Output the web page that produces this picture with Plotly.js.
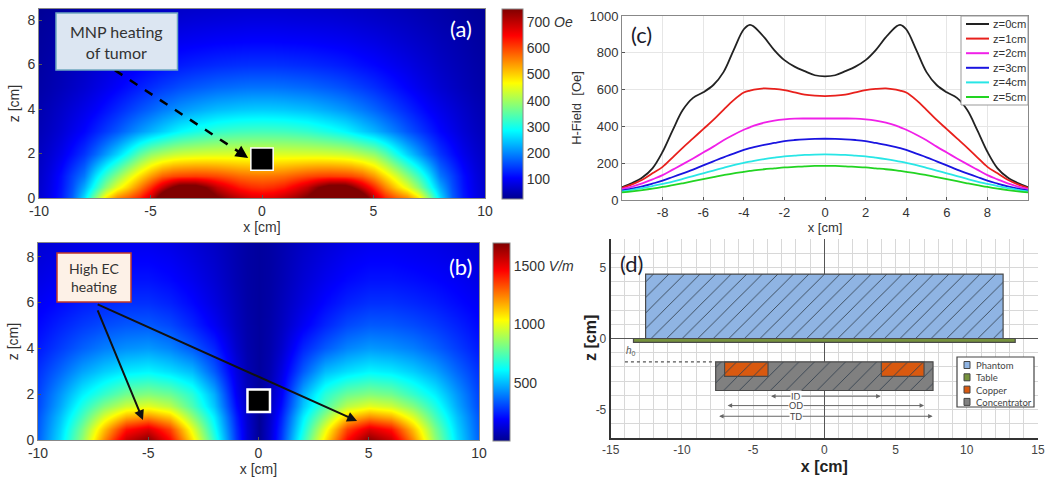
<!DOCTYPE html>
<html><head><meta charset="utf-8">
<style>html,body{margin:0;padding:0;background:#fff}#g{width:1050px;height:477px}</style>
<script src="https://cdn.plot.ly/plotly-3.0.1.min.js"></script></head>
<body><div id="g"></div>
<script>
// Panel (c) and (a): H-field [Oe] vs x at each height z
const xCm=[-10,-9.5,-9,-8.5,-8,-7.5,-7,-6.5,-6,-5.5,-5,-4.5,-4,-3.7,-3.5,-3,-2.5,-2,-1.5,-1,-.5,0,.5,1,1.5,2,2.5,3,3.5,3.7,4,4.5,5,5.5,6,6.5,7,7.5,8,8.5,9,9.5,10];
const hZ0=[70,92,122,172,262,380,490,555,585,625,695,815,928,952,942,885,815,760,725,700,678,672,678,700,725,760,815,885,942,952,928,815,695,625,585,555,490,380,262,172,122,92,70];
const hZ1=[65,85,110,145,180,232,285,335,385,435,490,543,584,595,600,607,604,597,585,573,567,565,567,573,585,597,604,607,600,595,584,543,490,435,385,335,285,232,180,145,110,85,65];
const hZ2=[60,73,90,112,135,165,195,226,258,290,325,355,382,395,404,420,431,438,442,443,443,443,443,443,442,438,431,420,404,395,382,355,325,290,258,226,195,165,135,112,90,73,60];
const hZ3=[52,62,74,89,105,125,145,165,188,210,232,252,272,282,288,300,310,320,326,330,332,333,332,330,326,320,310,300,288,282,272,252,232,210,188,165,145,125,105,89,74,62,52];
const hZ4=[47,55,65,76,88,100,115,130,145,160,175,190,202,209,213,222,230,237,241,245,247,248,247,245,241,237,230,222,213,209,202,190,175,160,145,130,115,100,88,76,65,55,47];
const hZ5=[41,47,54,62,71,81,91,102,113,124,135,145,153,158,161,167,172,177,180,183,185,185,185,183,180,177,172,167,161,158,153,145,135,124,113,102,91,81,71,62,54,47,41];
const zLabels=['z=0cm','z=1cm','z=2cm','z=3cm','z=4cm','z=5cm'];
const zColors=['#222222','#e8201c','#f020e8','#1a14e0','#28e6e6','#22d422'];
const mapZ05=[68,88,116,160,225,305,385,450,500,555,620,690,755,785,790,785,745,695,660,632,618,612,618,632,660,695,745,785,790,785,755,690,620,555,500,450,385,305,225,160,116,88,68];
const mapZ1=[65,85,112,150,190,265,330,385,440,490,540,580,598,602,604,607,604,597,585,573,567,565,567,573,585,597,604,607,604,602,598,580,540,490,440,385,330,265,190,150,112,85,65];
const mapZ2=[60,73,90,113,140,175,215,255,300,350,390,410,425,430,433,437,440,441,442,443,443,443,443,443,442,441,440,437,433,430,425,410,390,350,300,255,215,175,140,113,90,73,60];
const hZ6=[38,43,49,55,62,70,77,85,92,99,106,112,118,121,123,127,130,133,135,137,138,138,138,137,135,133,130,127,123,121,118,112,106,99,92,85,77,70,62,55,49,43,38];
const hZ7=[35,39,44,49,54,60,65,70,75,80,85,89,93,95,96,98,100,102,103,104,105,105,105,104,103,102,100,98,96,95,93,89,85,80,75,70,65,60,54,49,44,39,35];
const hZ8=[32,35,38,42,46,50,54,58,61,64,67,70,73,74,75,77,78,79,80,81,82,82,82,81,80,79,78,77,75,74,73,70,67,64,61,58,54,50,46,42,38,35,32];
const hZ86=[29,32,35,38,42,45,48,51,54,56,59,61,63,64,65,66,67,68,69,70,70,70,70,70,69,68,67,66,65,64,63,61,59,56,54,51,48,45,42,38,35,32,29];
const zRowsA=[0,.5,1,2,3,4,5,6,7,8,8.6];
const zGridA=[hZ0,mapZ05,mapZ1,mapZ2,hZ3,hZ4,hZ5,hZ6,hZ7,hZ8,hZ86];
// Panel (b): E-field [V/m]
const xB=[-10,-9,-8,-7,-6,-5,-4,-3,-2,-1,-.5,0,.5,1,2,3,4,5,6,7,8,9,10];
const zRowsB=[0,.5,1,1.5,2,3,4,5,6,7,8,8.6];
const zGridB=[
[350,560,850,1230,1560,1680,1450,1080,690,280,120,15,120,280,690,1080,1450,1680,1560,1230,850,560,350],
[340,540,810,1140,1430,1520,1350,1000,640,265,115,15,115,265,640,1000,1350,1520,1430,1140,810,540,340],
[330,510,730,980,1170,1230,1130,860,590,240,105,15,105,240,590,860,1130,1230,1170,980,730,510,330],
[310,470,660,830,950,990,920,740,520,205,90,20,90,205,520,740,920,990,950,830,660,470,310],
[300,440,590,700,800,830,790,680,480,175,80,25,80,175,480,680,790,830,800,700,590,440,300],
[270,360,460,530,580,600,560,500,340,140,65,30,65,140,340,500,560,600,580,530,460,360,270],
[230,290,350,400,430,445,410,340,250,105,55,30,55,105,250,340,410,445,430,400,350,290,230],
[200,245,285,315,335,340,310,250,175,85,50,30,50,85,175,250,310,340,335,315,285,245,200],
[175,205,235,255,270,270,245,200,140,75,45,30,45,75,140,200,245,270,270,255,235,205,175],
[150,175,195,210,220,220,200,165,120,65,42,30,42,65,120,165,200,220,220,210,195,175,150],
[130,150,165,175,185,185,170,140,105,60,40,30,40,60,105,140,170,185,185,175,165,150,130],
[120,135,150,160,165,165,150,125,95,58,40,30,40,58,95,125,150,165,165,160,150,135,120]];
// Panel (d): geometry in cm
const partNames=['Phantom','Table','Copper','Concentrator'];
const partColors=['#8fb4e3','#76923c','#d9590f','#808080'];
const phantomX=[0],phantomW=[25.1],phantomBase=[0],phantomH=[4.53];
const tableX=[0],tableW=[26.8],tableBase=[-0.27],tableH=[0.27];
const copperX=[-5.48,5.5],copperW=[3.05,3],copperBase=[-2.66,-2.66],copperH=[1,1];
const concX=[0],concW=[15.26],concBase=[-3.66],concH=[2.02];
const cbTicksA=[100,200,300,400,500,600,700];
const cbTextA=['100','200','300','400','500','600','700 <i>Oe</i>'];
const cbTicksB=[500,1000,1500];
const cbTextB=['500','1000','1500 <i>V/m</i>'];
const mapXTicks=[-10,-5,0,5,10], mapXText=['-10','-5','0','5','10'];
const mapZTicks=[0,2,4,6,8];
const cXTicks=[-8,-6,-4,-2,0,2,4,6,8], cXText=['-8','-6','-4','-2','0','2','4','6','8'];
const cYTicks=[0,200,400,600,800,1000];
const dXTicks=[-15,-10,-5,0,5,10,15], dXText=['-15','-10','-5','0','5','10','15'];
const dYTicks=[-5,0,5], dYText=['-5','0','5'];

const W=1050,H=477;
const px=v=>v/W, py=v=>1-v/H;
const jet=[[0,'rgb(0,0,143)'],[.11,'rgb(0,0,255)'],[.36,'rgb(0,255,255)'],[.61,'rgb(255,255,0)'],[.86,'rgb(255,0,0)'],[1,'rgb(128,0,0)']];
const sans='"Liberation Sans",Arial,sans-serif', round='Lato,"Open Sans",sans-serif';
const tf={family:sans,size:13,color:'#333'};
const tf14={family:sans,size:14,color:'#333'};
const tfb={family:sans,size:12,color:'#444'};

const traces=[
 {type:'heatmap',x:xCm,y:zRowsA,z:zGridA,xaxis:'x',yaxis:'y',zsmooth:'best',zmin:24,zmax:750,colorscale:jet,
  colorbar:{x:px(502),xanchor:'left',xpad:0,ypad:0,y:py(104),yanchor:'middle',len:190,lenmode:'pixels',thickness:21,thicknessmode:'pixels',
   tickvals:cbTicksA,ticktext:cbTextA,ticks:'',tickfont:tf14,outlinecolor:'#888',outlinewidth:1}},
 {type:'heatmap',x:xB,y:zRowsB,z:zGridB,xaxis:'x2',yaxis:'y2',zsmooth:'best',zmin:6,zmax:1693,colorscale:jet,
  colorbar:{x:px(493),xanchor:'left',xpad:0,ypad:0,y:py(342),yanchor:'middle',len:198,lenmode:'pixels',thickness:17,thicknessmode:'pixels',
   tickvals:cbTicksB,ticktext:cbTextB,ticks:'',tickfont:tf14,outlinecolor:'#888',outlinewidth:1}}
];
[hZ0,hZ1,hZ2,hZ3,hZ4,hZ5].forEach((s,i)=>traces.push({type:'scatter',mode:'lines',x:xCm,y:s,name:zLabels[i],xaxis:'x3',yaxis:'y3',showlegend:false,
  line:{color:zColors[i],width:1.8,shape:'spline',smoothing:1,simplify:false}}));
[[phantomX,phantomH,phantomBase,phantomW,0],[tableX,tableH,tableBase,tableW,1],[concX,concH,concBase,concW,3],[copperX,copperH,copperBase,copperW,2]].forEach(p=>{
  const k=p[4];
  traces.push({type:'bar',x:p[0],y:p[1],base:p[2],width:p[3],name:partNames[k],xaxis:'x4',yaxis:'y4',showlegend:false,
   marker:{color:partColors[k],line:{color:'#4a4a4a',width:1.2},
     pattern:k===1?{shape:''}:{shape:'/',bgcolor:partColors[k],fgcolor:'#33404f',size:11,solidity:.08}}});
});

const frame={showline:true,mirror:true,linecolor:'#888',linewidth:1,showgrid:false,zeroline:false,ticks:'inside',ticklen:3,tickcolor:'#555',tickfont:tf};
const frame14={...frame,tickfont:tf14};
const boxA=[56,177.5,13,70],boxB=[57,131,253,302];
const ann=(x,y,t,size,color,fam)=>({xref:'paper',yref:'paper',x:px(x),y:py(y),text:t,showarrow:false,font:{size:size,color:color,family:fam||round},xanchor:'center',yanchor:'middle'});
const annL=(x,y,t,size,color,fam)=>({...ann(x,y,t,size,color,fam),xanchor:'left',align:'left'});
const head=(xr,yr,x,y,ax,ay,w,col,side,sz)=>({xref:xr,yref:yr,axref:xr,ayref:yr,x:x,y:y,ax:ax,ay:ay,showarrow:true,arrowhead:2,arrowwidth:w,arrowsize:sz||1,arrowcolor:col,arrowside:side||'end',standoff:0,startstandoff:0});
const pline=(x0,y0,x1,y1,col,w)=>({type:'line',xref:'paper',yref:'paper',x0:px(x0),x1:px(x1),y0:py(y0),y1:py(y1),line:{color:col,width:w}});
const prect=(x0,y0,x1,y1,fill,col,w)=>({type:'rect',xref:'paper',yref:'paper',x0:px(x0),x1:px(x1),y0:py(y1),y1:py(y0),fillcolor:fill,line:{color:col,width:w}});
const dimCol='#666';

const cLegendShapes=[prect(961,16,1028,105,'#fff','#999',1)];
zLabels.forEach((t,i)=>{const y=24+i*14.6;cLegendShapes.push(pline(966,y,989,y,zColors[i],2));});
const dLegendShapes=[prect(957,357,1034,407,'#fff','#444',1.2)];
partNames.forEach((t,i)=>{const y=365+i*12.3;dLegendShapes.push(prect(964,y-3.5,970,y+3.5,partColors[i],'#444',1));});

const layout={width:W,height:H,margin:{l:0,r:0,t:0,b:0},paper_bgcolor:'#fff',plot_bgcolor:'#fff',barmode:'overlay',bargap:0,autosize:false,showlegend:false,
 xaxis:{...frame14,domain:[px(39),px(485)],range:[-10,10],tickvals:mapXTicks,ticktext:mapXText,anchor:'y',title:{text:'x [cm]',font:tf14,standoff:0}},
 yaxis:{...frame14,domain:[py(198),py(9)],range:[0,8.5],tickvals:mapZTicks,anchor:'x',title:{text:'z [cm]',font:tf14,standoff:4}},
 xaxis2:{...frame14,domain:[px(38),px(479)],range:[-10,10],tickvals:mapXTicks,ticktext:mapXText,anchor:'y2',title:{text:'x [cm]',font:tf14,standoff:0}},
 yaxis2:{...frame14,domain:[py(440),py(243)],range:[0,8.6],tickvals:mapZTicks,anchor:'x2',title:{text:'z [cm]',font:tf14,standoff:4}},
 xaxis3:{...frame,domain:[px(622),px(1028)],range:[-10,10],tickvals:cXTicks,ticktext:cXText,anchor:'y3',showgrid:true,gridcolor:'#e6e6e6',title:{text:'x [cm]',font:tf,standoff:0}},
 yaxis3:{...frame,domain:[py(200),py(16)],range:[0,1000],tickvals:cYTicks,anchor:'x3',showgrid:true,gridcolor:'#e6e6e6',title:{text:'H-Field  [Oe]',font:tf,standoff:4}},
 xaxis4:{domain:[px(610.7),px(1038)],range:[-15,15],tickvals:dXTicks,ticktext:dXText,anchor:'y4',showline:true,linecolor:'#333',linewidth:2,ticks:'',tickfont:tfb,showgrid:true,gridcolor:'#d8d8d8',gridwidth:1,
   minor:{dtick:1,showgrid:true,gridcolor:'#d8d8d8',gridwidth:1},zeroline:true,zerolinecolor:'#555',zerolinewidth:1.5,title:{text:'x [cm]',font:{family:sans,size:16,color:'#222',weight:'bold'},standoff:4}},
 yaxis4:{domain:[py(438),py(239)],range:[-7,7],tickvals:dYTicks,ticktext:dYText,anchor:'x4',showline:true,linecolor:'#333',linewidth:2,ticks:'',tickfont:tfb,showgrid:true,gridcolor:'#d8d8d8',gridwidth:1,
   minor:{dtick:1,showgrid:true,gridcolor:'#d8d8d8',gridwidth:1},zeroline:true,zerolinecolor:'#555',zerolinewidth:1.5},
 shapes:[
  {type:'line',xref:'x',yref:'y',x0:-6.6,y0:5.75,x1:-0.8,y1:1.92,line:{color:'#000',width:2.5,dash:'dash'}},
  {type:'rect',xref:'x',yref:'y',x0:-0.5,x1:0.5,y0:1.25,y1:2.25,fillcolor:'#000',line:{color:'#fff',width:1.5}},
  {type:'rect',xref:'x2',yref:'y2',x0:-0.5,x1:0.52,y0:1.22,y1:2.2,fillcolor:'#000',line:{color:'#fff',width:2.5}},
  prect(boxA[0],boxA[2],boxA[1],boxA[3],'#dce6f2','#6fa8c0',1.5),
  prect(boxB[0],boxB[2],boxB[1],boxB[3],'#fdf1e7','#c0392b',1.5),
  {type:'line',xref:'x4',yref:'y4',x0:-14,y0:-1.65,x1:-7.65,y1:-1.65,line:{color:'#555',width:1.2,dash:'dot'}},
  ...cLegendShapes,...dLegendShapes
 ],
 annotations:[
  ann(116.5,41.5,'MNP heating<br>of tumor',16,'#333'),
  ann(94,277.5,'High EC<br>heating',14,'#333'),
  ann(461,29,'(a)',22,'#fff'),
  ann(460,266,'(b)',22,'#fff'),
  ann(641,34,'(c)',22,'#1a1a2a'),
  ann(631,263,'(d)',22,'#1a1a2a'),
  {...ann(590,338,'z [cm]',16,'#222',sans),textangle:-90,font:{family:sans,size:16,color:'#222',weight:'bold'}},
  head('x','y',-0.62,1.8,-1.1,2.12,2.5,'#000'),
  head('x2','y2',-5.24,0.87,-7.43,5.98,2,'#111'),
  head('x2','y2',4.47,0.83,-7.43,5.98,2,'#111'),
  head('x4','y4',3.95,-4.06,-3.95,-4.06,1,dimCol,'end+start',.9),
  head('x4','y4',7,-4.72,-7,-4.72,1,dimCol,'end+start',.9),
  head('x4','y4',7.6,-5.47,-7.6,-5.47,1,dimCol,'end+start',.9),
  head('x4','y4',-13.68,-0.08,-13.68,-0.55,1,dimCol),
  head('x4','y4',-13.68,-1.6,-13.68,-1.2,1,dimCol),
  {xref:'x4',yref:'y4',x:-2,y:-4.06,text:'ID',showarrow:false,bgcolor:'#fff',font:{family:round,size:9,color:'#444'},borderpad:0},
  {xref:'x4',yref:'y4',x:-2,y:-4.72,text:'OD',showarrow:false,bgcolor:'#fff',font:{family:round,size:9,color:'#444'},borderpad:0},
  {xref:'x4',yref:'y4',x:-2,y:-5.47,text:'TD',showarrow:false,bgcolor:'#fff',font:{family:round,size:9,color:'#444'},borderpad:0},
  {xref:'x4',yref:'y4',x:-13.6,y:-0.85,text:'<i>h</i><sub>0</sub>',showarrow:false,font:{family:sans,size:10,color:'#555'}},
  annL(991,60.5,zLabels.join('<br>'),11.2,'#333',sans),
  annL(974,383.5,partNames.join('<br>'),9.5,'#444')
 ]
};
Plotly.newPlot('g',traces,layout,{displayModeBar:false,staticPlot:true});
</script></body></html>
